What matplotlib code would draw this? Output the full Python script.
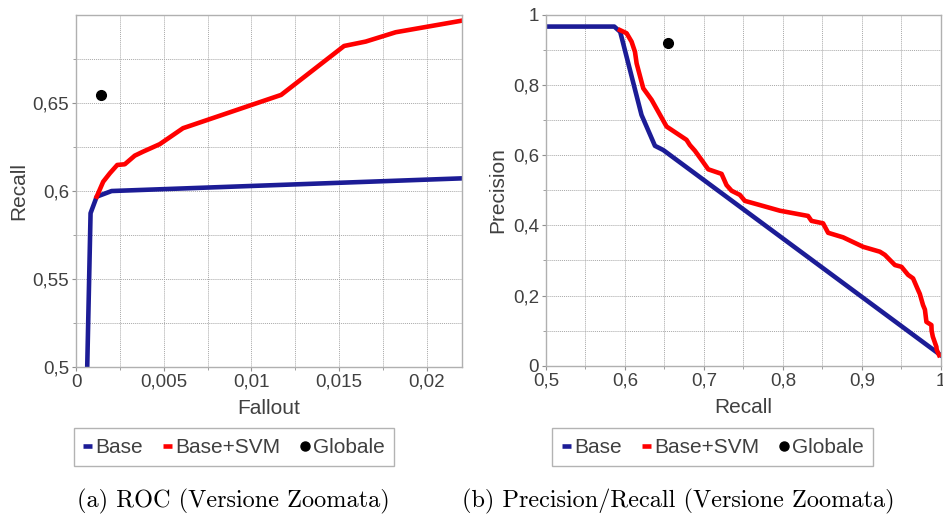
import matplotlib
matplotlib.use("Agg")
import matplotlib.pyplot as plt
from matplotlib.lines import Line2D
from matplotlib.ticker import FixedLocator, FuncFormatter, MultipleLocator

# ROC (zoomed): fallout vs recall
roc_base_x = [0.00064, 0.00083, 0.00118, 0.00203, 0.0220]
roc_base_y = [0.500, 0.5872, 0.5966, 0.5998, 0.607]
roc_svm_x = [0.00118, 0.00155, 0.00193, 0.00235, 0.00278, 0.00335, 0.00383, 0.00477,
             0.0061, 0.01169, 0.01528, 0.01651, 0.01822, 0.0220]
roc_svm_y = [0.5966, 0.6051, 0.6099, 0.6146, 0.615, 0.6199, 0.6222, 0.6264,
             0.6355, 0.6544, 0.6822, 0.6847, 0.690, 0.6966]
roc_global = (0.0014, 0.6544)

# Precision / Recall (zoomed)
pr_base_x = [0.5, 0.5865, 0.594, 0.621, 0.638, 0.6485, 1.0]
pr_base_y = [0.967, 0.967, 0.952, 0.715, 0.627, 0.615, 0.030]
pr_svm_x = [0.5937, 0.6021, 0.6084, 0.6127, 0.6148, 0.6232, 0.6338, 0.6527, 0.678, 0.6823,
            0.6886, 0.697, 0.7055, 0.7224, 0.7287, 0.735, 0.7456, 0.7519, 0.771, 0.7962,
            0.832, 0.8363, 0.851, 0.8574, 0.8764, 0.9017, 0.923, 0.9293, 0.942, 0.9503,
            0.9587, 0.965, 0.9713, 0.9735, 0.9776, 0.9800, 0.9819, 0.9882, 0.9885, 0.990,
            0.9945, 0.9950, 0.998]
pr_svm_y = [0.957, 0.948, 0.924, 0.895, 0.862, 0.791, 0.758, 0.682, 0.644, 0.629,
            0.613, 0.587, 0.560, 0.547, 0.515, 0.499, 0.487, 0.470, 0.458, 0.442,
            0.427, 0.413, 0.406, 0.379, 0.366, 0.339, 0.325, 0.316, 0.287, 0.282,
            0.259, 0.249, 0.216, 0.205, 0.173, 0.160, 0.125, 0.116, 0.100, 0.083,
            0.054, 0.045, 0.030]
pr_global = (0.654, 0.919)

legend_labels = ["Base", "Base+SVM", "Globale"]
captions = ["(a) ROC (Versione Zoomata)", "(b) Precision/Recall (Versione Zoomata)"]

BLUE = "#1c1c96"
RED = "#ff0000"
TEXT = "#404040"
SANS = ["Liberation Sans", "DejaVu Sans"]

plt.rcParams["font.family"] = SANS

W, H = 943, 514
fig = plt.figure(figsize=(W / 100, H / 100), dpi=100)


def px_axes(x0, y0, x1, y1):
    return fig.add_axes([x0 / W, 1 - y1 / H, (x1 - x0) / W, (y1 - y0) / H])


def comma(v, _pos=None):
    return f"{round(v, 6):g}".replace(".", ",")


def style(ax):
    for s in ax.spines.values():
        s.set_color("#b0b0b0")
        s.set_linewidth(1.0)
    ax.grid(which="both", color="#a8a8a8", linestyle=(0, (1, 1)), linewidth=0.7)
    ax.set_axisbelow(True)
    ax.tick_params(which="major", direction="out", length=3, color="#909090",
                   labelsize=13.5, labelcolor=TEXT, pad=2)
    ax.tick_params(which="minor", direction="out", length=2, color="#909090")
    ax.xaxis.set_major_formatter(FuncFormatter(comma))
    ax.yaxis.set_major_formatter(FuncFormatter(comma))


def add_legend(x0, x1):
    handles = [
        Line2D([], [], color=BLUE, lw=3.3, solid_capstyle="butt"),
        Line2D([], [], color=RED, lw=3.3, solid_capstyle="butt"),
        Line2D([], [], color="black", lw=0, marker="o", markersize=6.5),
    ]
    cx = (x0 + x1) / 2 / W
    cy = 1 - 447.3 / H
    leg = fig.legend(handles, legend_labels, loc="center", bbox_to_anchor=(cx, cy),
                     ncol=3, fontsize=15, frameon=True, fancybox=False,
                     handlelength=0.45, handletextpad=0.15, columnspacing=0.95,
                     borderpad=0.45, borderaxespad=0)
    leg.get_frame().set_edgecolor("#a0a0a0")
    leg.get_frame().set_linewidth(1.0)
    for t in leg.get_texts():
        t.set_color(TEXT)


# ROC panel
ax1 = px_axes(76, 15, 462, 366.7)
ax1.plot(roc_base_x, roc_base_y, color=BLUE, lw=3.3, solid_joinstyle="round")
ax1.plot(roc_svm_x, roc_svm_y, color=RED, lw=3.3, solid_joinstyle="round")
ax1.plot([roc_global[0]], [roc_global[1]], "o", color="black", markersize=7)
ax1.set_xlim(0, 0.022)
ax1.set_ylim(0.5, 0.6998)
ax1.xaxis.set_major_locator(FixedLocator([0, 0.005, 0.01, 0.015, 0.02]))
ax1.xaxis.set_minor_locator(FixedLocator([0.0025, 0.0075, 0.0125, 0.0175]))
ax1.yaxis.set_major_locator(FixedLocator([0.5, 0.55, 0.6, 0.65]))
ax1.yaxis.set_minor_locator(FixedLocator([0.525, 0.575, 0.625, 0.675]))
style(ax1)
ax1.set_xlabel("Fallout", fontsize=15, color=TEXT, labelpad=6)
ax1.set_ylabel("Recall", fontsize=15, color=TEXT, labelpad=3)

# Precision/Recall panel
ax2 = px_axes(546, 15, 940.7, 365.7)
ax2.plot(pr_base_x, pr_base_y, color=BLUE, lw=3.3, solid_joinstyle="round")
ax2.plot(pr_svm_x, pr_svm_y, color=RED, lw=3.3, solid_joinstyle="round")
ax2.plot([pr_global[0]], [pr_global[1]], "o", color="black", markersize=7)
ax2.set_xlim(0.5, 1.0)
ax2.set_ylim(0, 1.0)
ax2.xaxis.set_major_locator(MultipleLocator(0.1))
ax2.xaxis.set_minor_locator(MultipleLocator(0.05))
ax2.yaxis.set_major_locator(MultipleLocator(0.2))
ax2.yaxis.set_minor_locator(MultipleLocator(0.1))
style(ax2)
ax2.set_xlabel("Recall", fontsize=15, color=TEXT, labelpad=6)
ax2.set_ylabel("Precision", fontsize=15, color=TEXT, labelpad=4)

add_legend(70.7, 396.7)
add_legend(549.3, 876)

fig.text(233.5 / W, 1 - 501 / H, captions[0], ha="center", va="center",
         family="cmr10", fontsize=17.5, color="black")
fig.text(678 / W, 1 - 501 / H, captions[1], ha="center", va="center",
         family="cmr10", fontsize=17.5, color="black")

fig.savefig("out.png", dpi=100)
